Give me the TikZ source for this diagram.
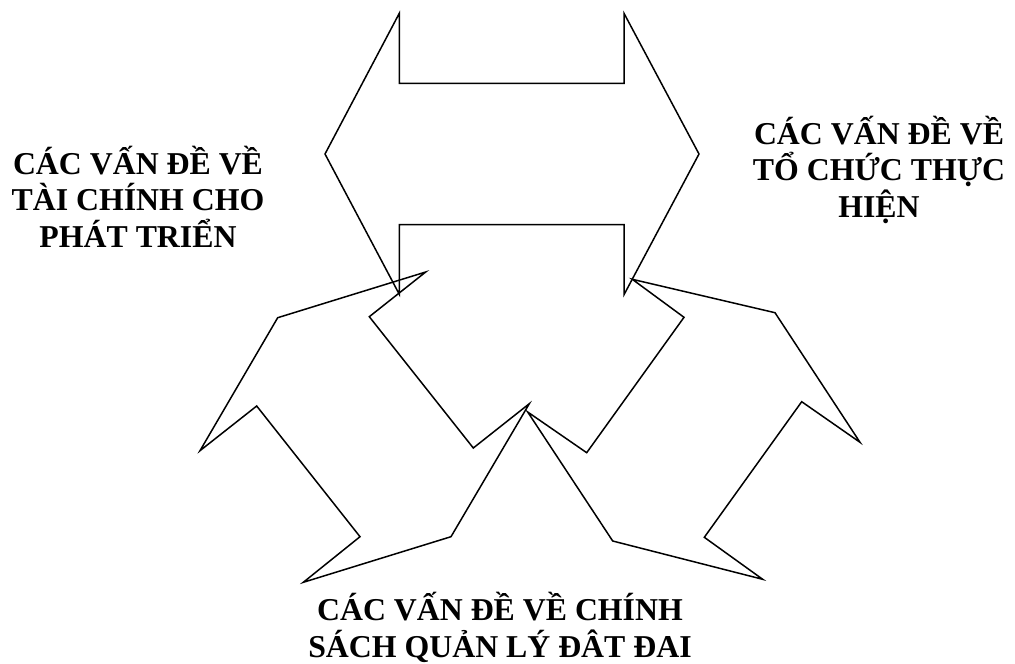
\documentclass[tikz,border=0pt]{standalone}
\usepackage{fontspec}
\setmainfont{Liberation Serif}
\begin{document}
\begin{tikzpicture}[x=1pt,y=-1pt,
  shape line/.style={draw=black,line width=1.5pt,line join=miter},
  label text/.style={font=\fontsize{31.8}{36.5}\selectfont\bfseries,align=center,inner sep=0pt,anchor=base}]
\useasboundingbox (0,0) rectangle (1015,664);
% top double arrow
\draw[shape line] (325,154) -- (399.3,13.3) -- (399.3,83.3) -- (624,83.3) -- (624,13.3)
  -- (699,154) -- (624,294.7) -- (624,224.7) -- (399.3,224.7) -- (399.3,294.3) -- cycle;
% bottom-left double arrow
\draw[shape line] (425.7,272) -- (277.7,317.7) -- (200,450.7) -- (256.7,406) -- (360,536.7)
  -- (303.3,582.3) -- (451,536.7) -- (529.3,403.7) -- (473.3,448) -- (369.3,316.7) -- cycle;
% bottom-right double arrow
\draw[shape line] (632.3,279.3) -- (775,312.7) -- (860,442.3) -- (801.7,401.7) -- (704.3,537.3)
  -- (762.7,579.3) -- (612.7,541) -- (527.7,412) -- (586.7,452.7) -- (684,317.3) -- cycle;
% labels (anchor=base is the baseline of the last line)
\node[label text] (fin) at (138,247) {CÁC VẤN ĐỀ VỀ\\TÀI CHÍNH CHO\\PHÁT TRIỂN};
\node[label text] (org) at (879,217) {CÁC VẤN ĐỀ VỀ\\TỔ CHỨC THỰC\\HIỆN};
\node[label text] (land) at (500,657) {CÁC VẤN ĐỀ VỀ CHÍNH\\SÁCH QUẢN LÝ ĐÂT ĐAI};
\end{tikzpicture}
\end{document}
